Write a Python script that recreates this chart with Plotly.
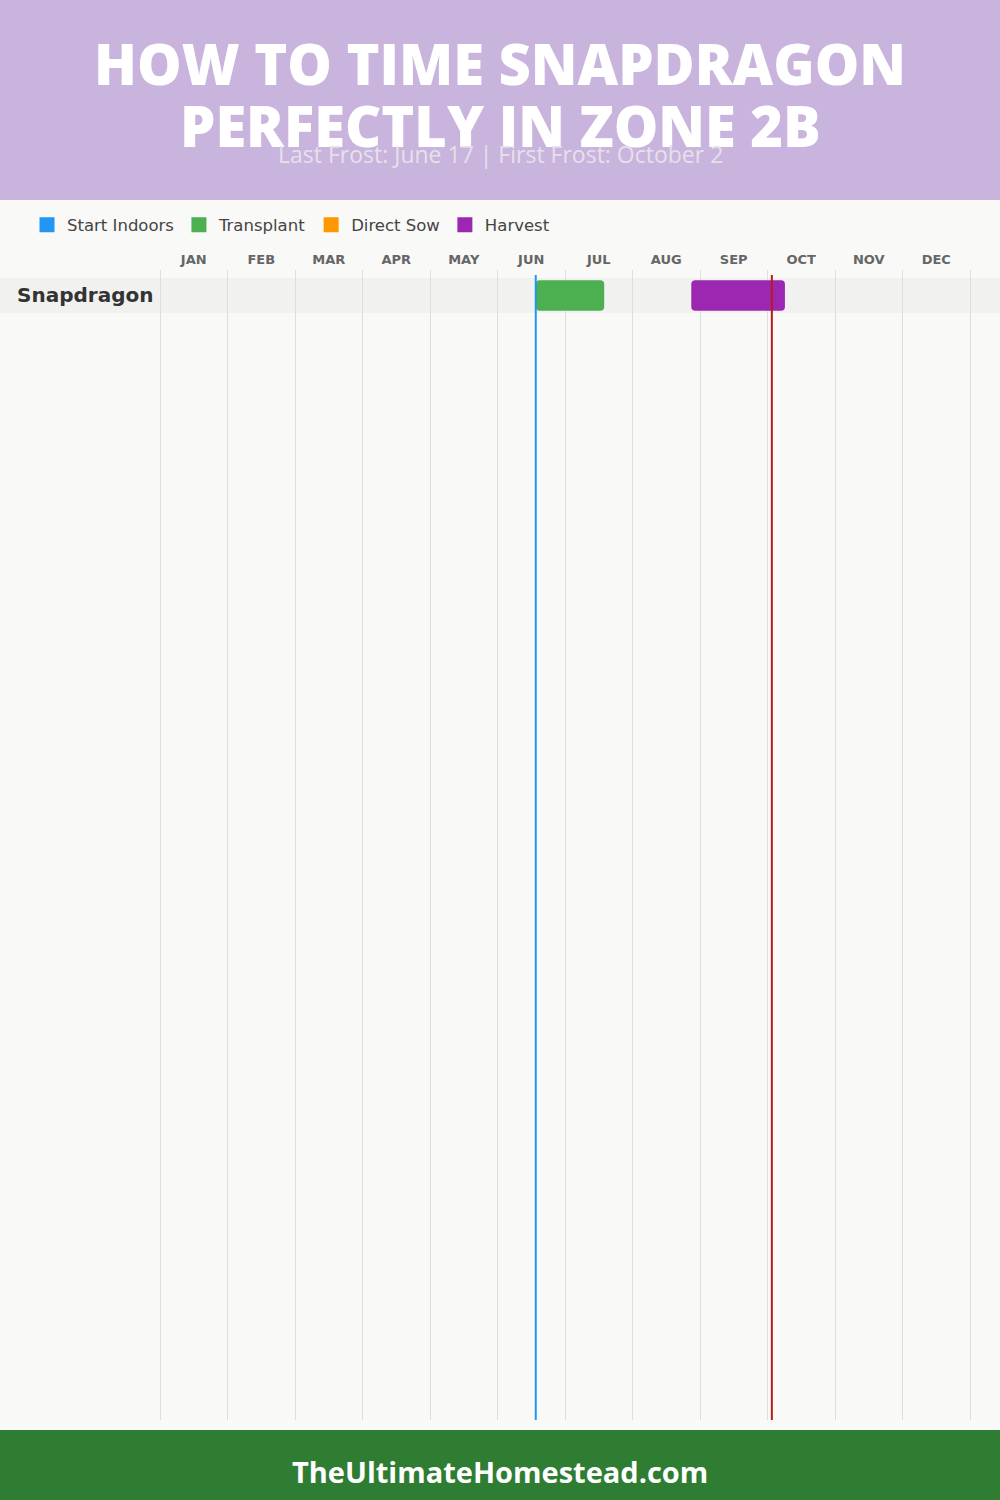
import calendar
import plotly.graph_objects as go

# ---- data ----
months = ["JAN", "FEB", "MAR", "APR", "MAY", "JUN", "JUL", "AUG", "SEP", "OCT", "NOV", "DEC"]
plants = ["Snapdragon"]
legend_names = ["Start Indoors", "Transplant", "Direct Sow", "Harvest"]
legend_colors = ["#2196F3", "#4CAF50", "#FF9800", "#9C27B0"]
transplant_start = [(6, 17)]
transplant_end = [(7, 18)]
harvest_start = [(8, 27)]
harvest_end = [(10, 8)]
last_frost = (6, 17)
first_frost = (10, 2)
title_lines = ["HOW TO TIME SNAPDRAGON", "PERFECTLY IN ZONE 2B"]
subtitle_text = "Last Frost: June 17 | First Frost: October 2"
footer_text = "TheUltimateHomestead.com"


def mpos(md):
    m, d = md
    return (m - 1) + d / calendar.monthrange(2025, m)[1]


W, H = 1000, 1500
HEADER_BG = "#C9B4DD"
BODY_BG = "#F9F9F7"
BAND = "#F1F1EF"
GRID = "#DEDEDE"
FOOTER = "#2E7D32"

plot_top, plot_bot = 270, 1420
row_h = 35
row_top = 278
y_top = -0.5 - (row_top - plot_top) / row_h
y_bot = y_top + (plot_bot - plot_top) / row_h
pad_px = 3
month_px = 67.5
x_pad = pad_px / month_px

fig = go.Figure()

rows = list(range(len(plants)))
for starts, ends, color, name in [
    (transplant_start, transplant_end, legend_colors[1], "Transplant"),
    (harvest_start, harvest_end, legend_colors[3], "Harvest"),
]:
    b = [mpos(s) for s in starts]
    x = [mpos(e) - mpos(s) for s, e in zip(starts, ends)]
    fig.add_trace(go.Bar(
        y=rows, x=x, base=b, orientation="h", width=0.877,
        marker=dict(color=color, cornerradius=4, line=dict(width=0)),
        showlegend=False, name=name, hoverinfo="skip",
    ))

for name, color in zip(legend_names, legend_colors):
    fig.add_trace(go.Scatter(
        x=[None], y=[None], mode="markers", name=name,
        marker=dict(symbol="square", size=15, color=color),
    ))

shapes = [
    dict(type="rect", xref="paper", yref="paper", x0=0, x1=1, y0=1 - 200 / H, y1=1,
         fillcolor=HEADER_BG, line=dict(width=0), layer="below"),
    dict(type="rect", xref="paper", yref="paper", x0=0, x1=1, y0=0, y1=70 / H,
         fillcolor=FOOTER, line=dict(width=0), layer="above"),
]
for r in rows:
    shapes.append(dict(type="rect", xref="paper", yref="y", x0=0, x1=1, y0=r - 0.5, y1=r + 0.5,
                       fillcolor=BAND, line=dict(width=0), layer="between"))
for md, col in [(last_frost, "#2196F3"), (first_frost, "#B71C1C")]:
    p = mpos(md)
    shapes.append(dict(type="line", xref="x", yref="paper", x0=p, x1=p,
                       y0=1 - plot_bot / H, y1=1 - 275 / H,
                       line=dict(color=col, width=2), layer="above"))

annotations = []
for line, yc in zip(title_lines, [63, 125]):
    annotations.append(dict(text=line, xref="paper", yref="paper", x=0.5, y=1 - yc / H,
                            xanchor="center", yanchor="middle", showarrow=False,
                            font=dict(family="Open Sans", size=56, color="white", weight=800)))
annotations += [
    dict(text=subtitle_text, xref="paper", yref="paper", x=0.5, y=1 - 154 / H,
         xanchor="center", yanchor="middle", showarrow=False,
         font=dict(family="Open Sans", size=23, color="#E6E0EA")),
    dict(text=footer_text, xref="paper", yref="paper", x=0.5, y=1 - 1471 / H,
         xanchor="center", yanchor="middle", showarrow=False,
         font=dict(family="Open Sans", size=29, color="white", weight=700)),
]
for r, name in zip(rows, plants):
    annotations.append(dict(text=name, xref="paper", yref="y", x=15 / W, y=r,
                            xanchor="left", yanchor="middle", showarrow=False,
                            font=dict(family="DejaVu Sans", size=20, color="#333333", weight=700)))

fig.update_layout(
    width=W, height=H,
    margin=dict(l=0, r=0, t=0, b=0),
    paper_bgcolor=BODY_BG, plot_bgcolor=BODY_BG,
    shapes=shapes, annotations=annotations,
    barmode="overlay",
    showlegend=True,
    legend=dict(orientation="h", x=27 / W, y=1 - 225 / H, xanchor="left", yanchor="middle",
                font=dict(family="DejaVu Sans", size=16.5, color="#444444"),
                itemsizing="trace", bgcolor="rgba(0,0,0,0)", itemclick=False),
    xaxis=dict(domain=[(160 - pad_px) / W, (970 + pad_px) / W], range=[-x_pad, 12 + x_pad], side="top",
               tickmode="array", tickvals=[i + 0.5 for i in range(12)], ticktext=months,
               ticks="", showgrid=False, zeroline=False, showline=False,
               ticklabelstandoff=2,
               tickfont=dict(family="DejaVu Sans", size=13, color="#666666", weight=700),
               minor=dict(tickmode="array", tickvals=list(range(13)), showgrid=True,
                          gridcolor=GRID, gridwidth=1, ticks=""),
               fixedrange=True),
    yaxis=dict(domain=[1 - plot_bot / H, 1 - plot_top / H], range=[y_bot, y_top],
               showticklabels=False, showgrid=False, zeroline=False, fixedrange=True),
)

fig.write_html("out.html", config={"displayModeBar": False},
               post_script="document.body.style.margin='0';document.body.style.padding='0';")
